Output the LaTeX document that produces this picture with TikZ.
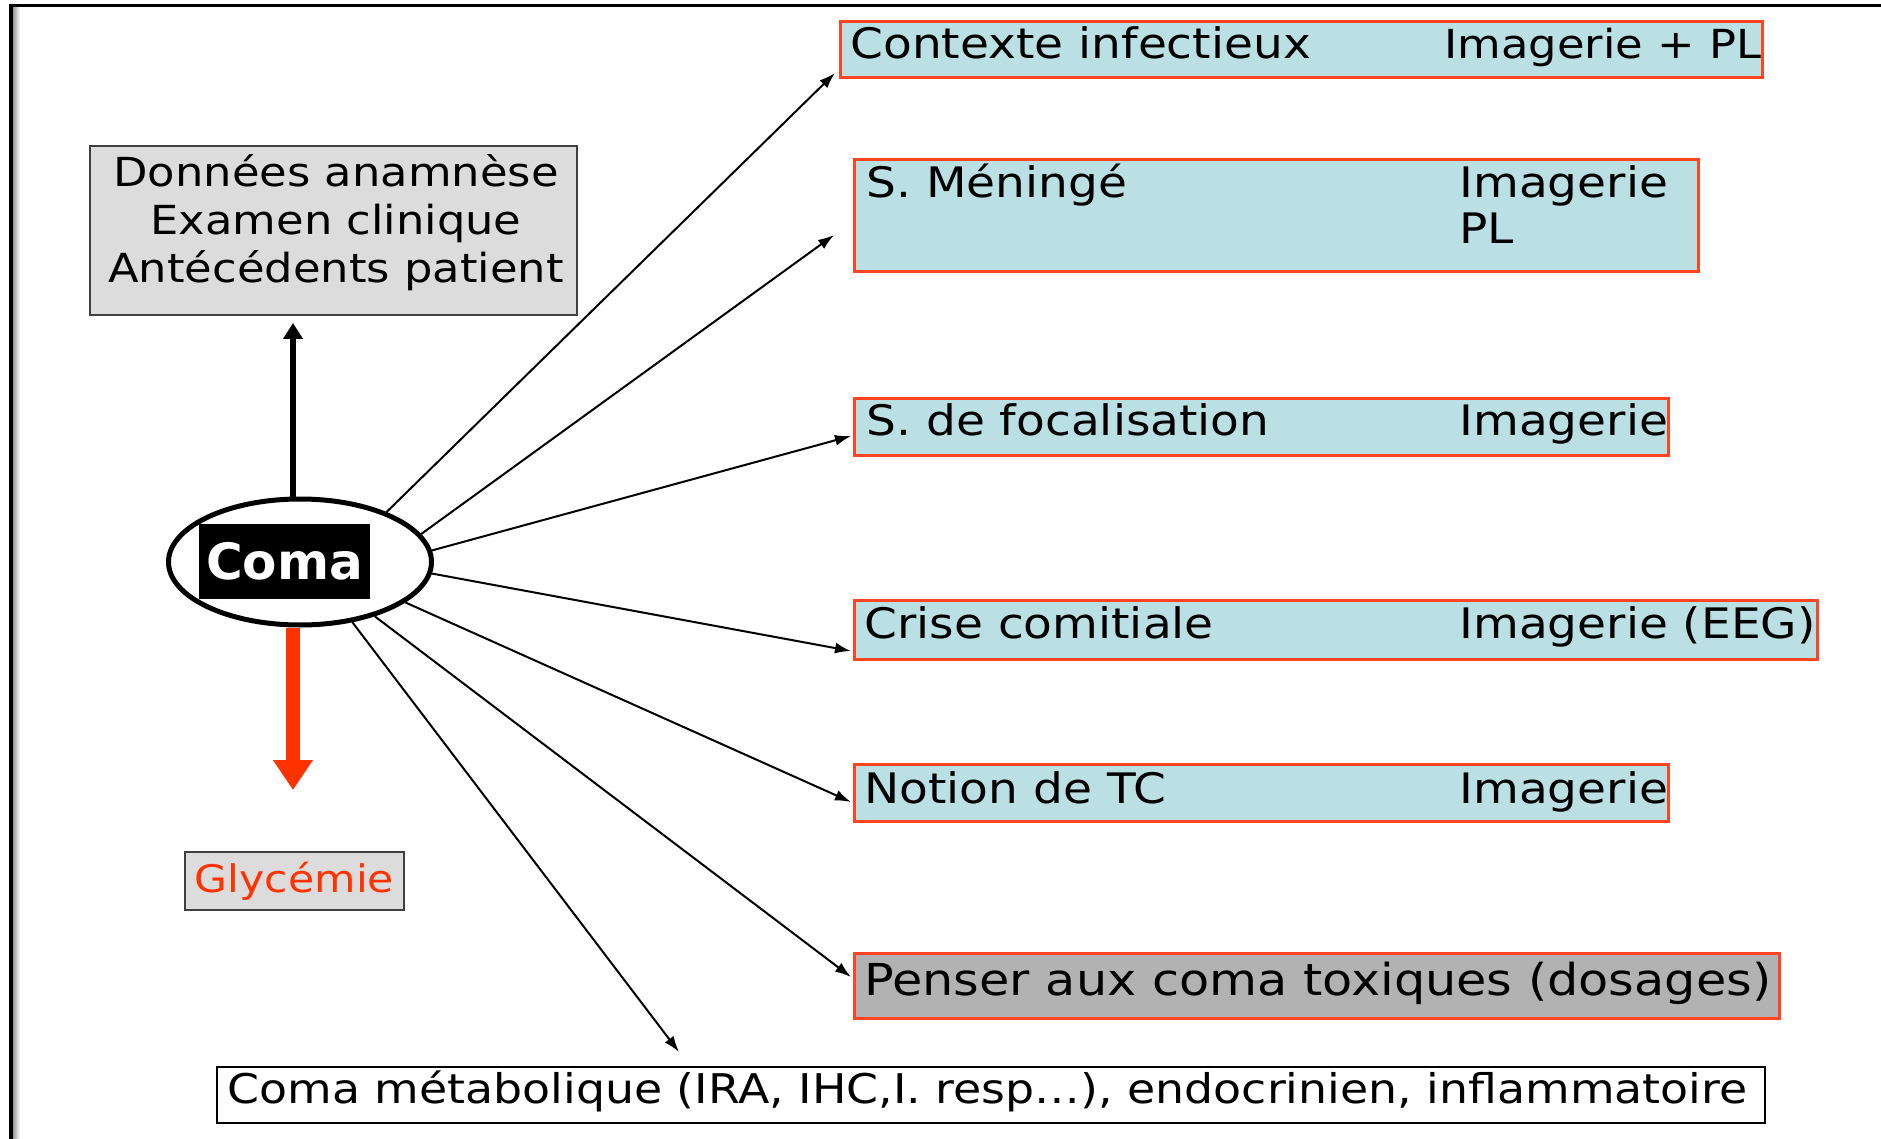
\documentclass[tikz,border=0pt]{standalone}
\usepackage{fontspec}
\setmainfont{DejaVu Sans}[FakeStretch=1.12]
\newfontfamily\comafont{DejaVu Sans}
\usetikzlibrary{arrows.meta,shapes.geometric}
\definecolor{lblue}{HTML}{BAE0E3}
\definecolor{redb}{HTML}{FF4422}
\definecolor{redt}{HTML}{FF3300}
\definecolor{lgray}{HTML}{DCDCDC}
\definecolor{mgray}{HTML}{B2B2B2}
\definecolor{dgray}{HTML}{404040}
\tikzset{
  bbox/.style={draw=redb, line width=1.5pt, fill=lblue, inner sep=0pt, outer sep=0pt, anchor=north west},
  txt/.style={inner sep=0pt, anchor=base west, font=\fontsize{21}{25}\selectfont},
  thinarrow/.style={draw=black, line width=1pt, -{Latex[length=8pt,width=5.5pt]}},
}
\begin{document}
\begin{tikzpicture}[x=0.5pt,y=-0.5pt]
\useasboundingbox (0,0) rectangle (1881,1139);
\fill[white] (0,0) rectangle (1881,1139);
% frame
\shade[left color=gray!80, right color=white] (13,7.5) rectangle (20,1139);
\draw[line width=1.9pt, line join=miter] (11,1139) -- (11,5.5) -- (1881,5.5);

% boxes
\node[bbox, minimum width=461pt, minimum height=28pt] (b1) at (840,22) {};
\node[bbox, minimum width=422pt, minimum height=56pt] (b2) at (854,160) {};
\node[bbox, minimum width=407pt, minimum height=28pt] (b3) at (854,399) {};
\node[bbox, minimum width=481.5pt, minimum height=29.5pt] (b4) at (854,600) {};
\node[bbox, minimum width=407pt, minimum height=28.5pt] (b5) at (854,764) {};
\node[bbox, fill=mgray, minimum width=462.5pt, minimum height=32.5pt] (b6) at (854,953) {};
\node[bbox, draw=black, line width=1pt, fill=white, minimum width=774pt, minimum height=28pt] (b7) at (217,1067) {};

% texts
\node[txt] (t1a) at (850,59) {Contexte infectieux};
\node[txt, font=\fontsize{20}{24}\selectfont] (t1b) at (1444,59) {Imagerie + PL};
\node[txt] (t2a) at (866,198) {S. Méningé};
\node[txt] (t2b) at (1459,198) {Imagerie};
\node[txt] (t2c) at (1459,244) {PL};
\node[txt] (t3a) at (866,436) {S. de focalisation};
\node[txt] (t3b) at (1459,436) {Imagerie};
\node[txt] (t4a) at (864,638) {Crise comitiale};
\node[txt] (t4b) at (1459,638) {Imagerie (EEG)};
\node[txt] (t5a) at (864,803) {Notion de TC};
\node[txt] (t5b) at (1459,803) {Imagerie};
\node[txt, font=\fontsize{22}{26}\selectfont] (t6) at (864,995) {Penser aux coma toxiques (dosages)};
\node[txt, font=\fontsize{20.45}{24}\selectfont] (t7) at (227,1103) {Coma métabolique (IRA, IHC,I. resp…), endocrinien, inflammatoire};

% left nodes
\node[draw=dgray, line width=1.25pt, fill=lgray, inner sep=0pt, outer sep=0pt,
      minimum width=243.5pt, minimum height=84.5pt] (dn) at (333.5,230.5) {};
\node[inner sep=0pt, align=center, font=\fontsize{20}{24}\selectfont] (dntxt) at (336,223)
      {Données anamnèse\\Examen clinique\\Antécédents patient};
\node[draw=dgray, line width=1.25pt, fill=lgray, inner sep=0pt, outer sep=0pt,
      minimum width=109.5pt, minimum height=29pt, text=redt,
      font=\fontsize{19}{23}\selectfont] (gly) at (294.5,881) {Glycémie};
\node[ellipse, draw, line width=2.5pt, fill=white, inner sep=0pt,
      minimum width=131.5pt, minimum height=63pt] (coma) at (300,562) {};
\node[fill=black, text=white, inner sep=0pt, minimum width=85.5pt, minimum height=37.5pt,
      font=\comafont\bfseries\fontsize{25}{30}\selectfont] (comabox) at (284.5,561.5) {Coma};

% connectors
\draw[thinarrow] (coma.30) -- ([shift={(-5,-5)}]b1.south west);
\draw[thinarrow] (coma.13.5) -- ([shift={(-20,19)}]b2.west);
\draw[thinarrow] (coma.5) -- ([shift={(-3,9)}]b3.west);
\draw[thinarrow] (coma.-5) -- ([shift={(-3,-8)}]b4.south west);
\draw[thinarrow] (coma.-21) -- ([shift={(-3,9.5)}]b5.west);
\draw[thinarrow] (coma.-36) -- ([shift={(-3,-8.5)}]b6.west);
\draw[thinarrow] (coma.-49) -- ([shift={(462,-15)}]b7.north west);

\draw[line width=2.75pt, -{Triangle[length=8pt,width=9.5pt]}]
  ([xshift=-3.5pt]coma.north) -- ([xshift=-3.5pt,yshift=-4pt]coma.north |- dn.south);
\draw[redt, line width=7pt, -{Triangle[length=15pt,width=19pt]}]
  ([xshift=-3.5pt]coma.south) -- ([xshift=-3.5pt,yshift=31pt]coma.south |- gly.north);
\end{tikzpicture}
\end{document}
